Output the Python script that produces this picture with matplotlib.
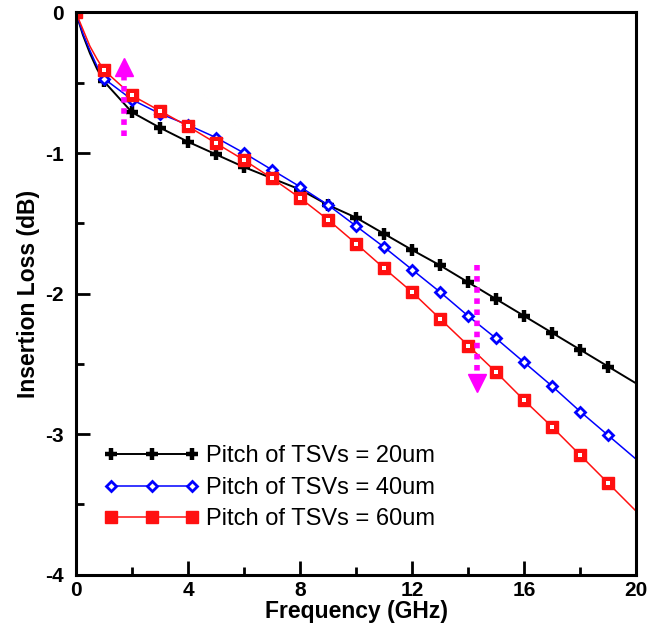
import numpy as np
from matplotlib import pyplot as plt
from matplotlib.ticker import MultipleLocator

plt.rcParams['font.family'] = ['Liberation Sans', 'DejaVu Sans']
plt.rcParams['axes.unicode_minus'] = False

# frequency points (GHz); extra points near 0 follow the curved start
freq = [0, 0.25, 0.5, 0.75, 1, 2, 3, 4, 5, 6, 7, 8, 9, 10, 11, 12, 13, 14, 15, 16, 17, 18, 19, 20]
# insertion loss (dB)
loss_20 = [0, -0.16, -0.29, -0.40, -0.49, -0.71, -0.82, -0.92, -1.01, -1.10, -1.18, -1.26, -1.37,
           -1.46, -1.575, -1.69, -1.80, -1.92, -2.04, -2.16, -2.28, -2.40, -2.52, -2.64]
loss_40 = [0, -0.15, -0.27, -0.38, -0.47, -0.62, -0.72, -0.80, -0.89, -1.00, -1.12, -1.24, -1.37,
           -1.52, -1.67, -1.83, -1.99, -2.16, -2.32, -2.49, -2.66, -2.84, -3.01, -3.18]
loss_60 = [0, -0.12, -0.24, -0.33, -0.41, -0.59, -0.70, -0.81, -0.93, -1.05, -1.18, -1.32, -1.475,
           -1.645, -1.82, -1.99, -2.18, -2.37, -2.56, -2.76, -2.95, -3.15, -3.35, -3.55]
labels = ["Pitch of TSVs = 20um", "Pitch of TSVs = 40um", "Pitch of TSVs = 60um"]

# markers only on whole GHz values 0..19
mk = [i for i, f in enumerate(freq) if float(f).is_integer() and f < 20]

fig = plt.figure(figsize=(6.6, 6.41), dpi=100)
ax = fig.add_axes([0.115, 0.1037, 0.849, 0.8768])

red = '#ff1010'
ax.plot(freq, loss_20, color='black', lw=1.4, marker='+', ms=9, mew=3.2,
        markevery=mk, label=labels[0])
ax.plot(freq, loss_40, color='#0000ff', lw=1.1, marker='D', ms=5.5, mew=2,
        mfc='white', markevery=mk, label=labels[1])
ax.plot(freq, loss_60, color=red, lw=1.1, marker='s', ms=8.5, mew=1,
        mfc=red, mec=red, markevery=mk, label=labels[2])
# small white dot inside each red square
xs = [freq[i] for i in mk]
ax.plot(xs, [loss_60[i] for i in mk], ls='none', marker='s', ms=2.5, mew=0, mfc='white')

# magenta trend arrows
mag = '#ff00ff'
ax.plot([1.7, 1.7], [-0.88, -0.46], color=mag, lw=4, dashes=(1, 1))
ax.plot([1.7], [-0.385], marker='^', ms=13, color=mag, ls='none')
ax.plot([14.3, 14.3], [-1.80, -2.56], color=mag, lw=4, dashes=(1, 1))
ax.plot([14.3], [-2.64], marker='v', ms=13, color=mag, ls='none')

ax.set_xlim(0, 20)
ax.set_ylim(-4, 0)
ax.xaxis.set_major_locator(MultipleLocator(4))
ax.xaxis.set_minor_locator(MultipleLocator(2))
ax.yaxis.set_major_locator(MultipleLocator(1))
ax.yaxis.set_minor_locator(MultipleLocator(0.5))
ax.tick_params(which='both', direction='in', width=2, labelsize=15, top=False, right=False)
ax.tick_params(which='major', length=10)
ax.tick_params(which='minor', length=6)
ax.tick_params(axis='x', which='major', pad=5)
ax.tick_params(axis='y', which='major', pad=9)
for t in ax.get_xticklabels() + ax.get_yticklabels():
    t.set_fontweight('bold')
for s in ax.spines.values():
    s.set_linewidth(2.2)

ax.set_xlabel("Frequency (GHz)", fontsize=16.5, fontweight='bold', labelpad=0)
ax.set_ylabel("Insertion Loss (dB)", fontsize=16.5, fontweight='bold', labelpad=3)

ax.legend(loc='lower left', bbox_to_anchor=(0.034, 0.062), frameon=False, fontsize=17,
          numpoints=3, handlelength=4.0, handletextpad=0.3, labelspacing=0.4,
          borderaxespad=0)

fig.savefig('out.png', dpi=100)
